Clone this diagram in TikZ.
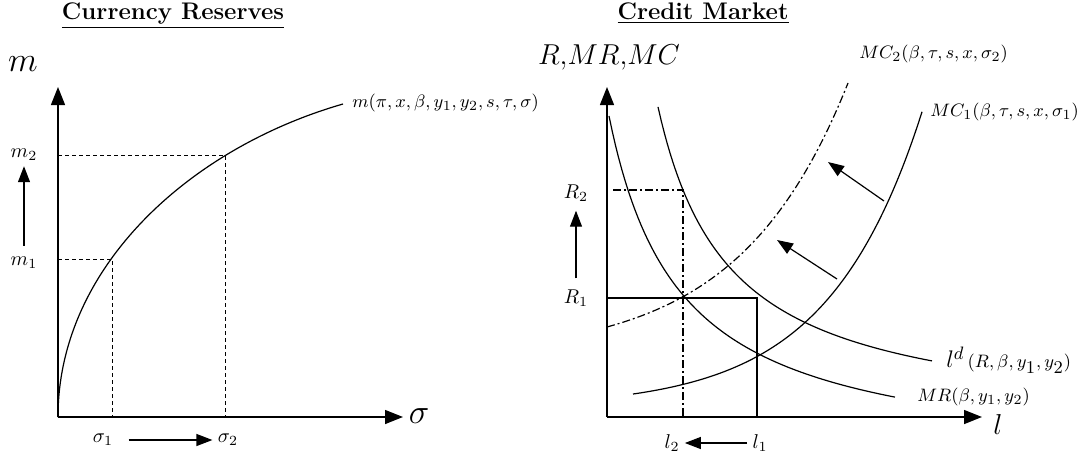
\documentclass[tikz,border=0pt]{standalone}
\usepackage{amsmath,amssymb}
\usepackage{tikz}
\usetikzlibrary{arrows.meta, positioning, calc}

\begin{document}
\begin{tikzpicture}[
  x=0.5pt, y=-0.5pt,
  axis/.style    = {line width=0.7pt, -{Triangle[length=9pt,width=7pt]}},
  curve/.style   = {line width=0.6pt},
  guide/.style   = {line width=0.5pt, dash pattern=on 2pt off 1.5pt},
  ddot/.style    = {line width=0.6pt, dash pattern=on 4pt off 1.5pt on 1pt off 1.5pt},
  movearr/.style = {line width=0.6pt, -{Triangle[length=8pt,width=6pt]}},
  ttl/.style     = {font=\fontsize{12}{14}\selectfont\bfseries, inner sep=0pt, anchor=base},
  axlbl/.style   = {font=\fontsize{17}{20}\selectfont, inner sep=0pt},
  lbl/.style     = {font=\fontsize{10}{12}\selectfont, inner sep=2.5pt},
  clbl/.style    = {font=\fontsize{9.5}{11}\selectfont, anchor=west, inner sep=0pt},
]
\useasboundingbox (0,0) rectangle (1091,461);

%% Titles
\node[ttl] (ttlres) at (173,19) {\underline{Currency Reserves}};
\node[ttl] (ttlcred) at (703,19) {\underline{Credit Market}};

%% Left panel: currency reserves
\coordinate (o1)    at (58,417);
\coordinate (ytop1) at (58,87);
\coordinate (xend1) at (403,417);
\draw[axis] (o1) -- (ytop1);
\draw[axis] (o1) -- (xend1);
\node[axlbl] (ylab1) at (23,64)   {$m$};
\node[axlbl] (xlab1) at (419,416) {$\sigma$};

\coordinate (mend) at (343,104);
\draw[curve] (o1) .. controls (58,267) and (190,148) .. (mend);
\node[clbl] (mlab) at (352,103) {$m(\pi,x,\beta,y_1,y_2,s,\tau,\sigma)$};

\coordinate (p1) at (112,259);
\coordinate (p2) at (225,155);
\foreach \p in {p1, p2} {
  \draw[guide] (o1 |- \p) -- (\p) -- (\p |- o1);
}

\node[lbl] (m1) at (24,263) {$m_1$};
\node[lbl] (m2) at (24,155) {$m_2$};
\draw[movearr, shorten <=3pt] (m1) -- (m2);

\node[lbl] (s1) at (103,440) {$\sigma_1$};
\node[lbl] (s2) at (228,440) {$\sigma_2$};
\draw[movearr, shorten <=5pt] (s1) -- (s2);

%% Right panel: credit market
\coordinate (o2)    at (607,417);
\coordinate (ytop2) at (607,87);
\coordinate (xend2) at (982,417);
\draw[axis] (o2) -- (ytop2);
\draw[axis] (o2) -- (xend2);
\node[font=\fontsize{13.5}{16}\selectfont, inner sep=0pt] (ylab2) at (609,57) {$R{,}MR{,}MC$};
\node[font=\fontsize{15}{18}\selectfont, inner sep=0pt] (xlab2) at (998,424) {$l$};

% MR
\draw[curve] plot[domain=2:288, samples=90] ({607+\x},{467-10*(2495.8/(\x+69.1))});
\node[clbl] (mrlab) at (917,397) {$MR(\beta,y_1,y_2)$};

% loan demand
\draw[curve] plot[domain=51:325, samples=90] ({607+\x},{427-10*(2282.3/(\x+20.3))});
\node[clbl] (ldlab) at (946,360) {{\fontsize{13}{15}\selectfont$l^{d}$}\,$(R,\beta,y_{\textstyle 1},y_{\textstyle 2})$};

% MC1
\draw[curve] plot[domain=26:315, samples=90] ({607+\x},{407.7-10.37*exp(\x/94)});
\node[clbl] (mc1lab) at (930,112) {$MC_1(\beta,\tau,s,x,\sigma_1)$};

% MC2
\draw[ddot] plot[domain=0:241, samples=90] ({607+\x},{357-30.03*exp(\x/109)});
\node[clbl] (mc2lab) at (859,54) {$MC_2(\beta,\tau,s,x,\sigma_2)$};

% equilibria
\coordinate (q1) at (757,298);
\coordinate (q2) at (683,190);
\draw[curve] (o2 |- q1) -- (q1) -- (q1 |- o2);
\draw[ddot] ($(o2 |- q2)+(6,0)$) -- (q2) -- (q2 |- o2);

\node[lbl] (r1) at (576,298) {$R_1$};
\node[lbl] (r2) at (576,193) {$R_2$};
\draw[movearr, shorten <=3pt, shorten >=2pt] (r1) -- (r2);

\node[lbl] (l1) at (760,443) {$l_1$};
\node[lbl] (l2) at (672,443) {$l_2$};
\draw[movearr] (l1) -- (l2);

% shift of MC
\coordinate (a1s) at (884,201);
\coordinate (a1e) at (828,162);
\coordinate (a2s) at (837,279);
\coordinate (a2e) at (777,240);
\foreach \s/\e in {a1s/a1e, a2s/a2e} {
  \draw[movearr] (\s) -- (\e);
}

\end{tikzpicture}
\end{document}
